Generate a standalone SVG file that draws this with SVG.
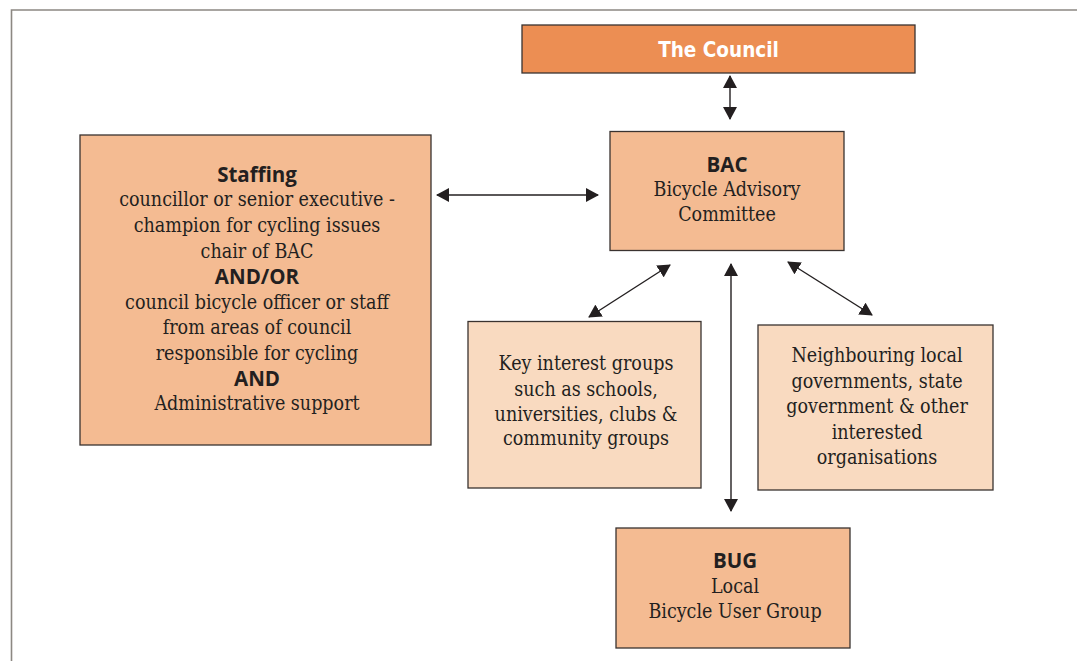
<svg xmlns="http://www.w3.org/2000/svg" width="1077" height="661" viewBox="0 0 1077 661">
<style>
.box{stroke:#3a3330;stroke-width:1.3}
.dark{fill:#f4bb92}
.light{fill:#f9dac0}
.council{fill:#ec8e53}
.s{font-family:"DejaVu Serif","Liberation Serif",serif;font-stretch:condensed;font-size:19.5px;fill:#231f20;text-anchor:middle}
.b{font-family:"Open Sans","Liberation Sans",sans-serif;font-weight:bold;font-size:20.5px;fill:#231f20;text-anchor:middle}
.w{font-family:"DejaVu Sans","Liberation Sans",sans-serif;font-stretch:condensed;font-weight:bold;font-size:20.5px;fill:#ffffff;text-anchor:middle}
.c{stroke:#231f20;stroke-width:1.4;fill:none;marker-start:url(#ah);marker-end:url(#ah)}
.frame{stroke:#8c8882;stroke-width:1.6;fill:none}
</style>
<defs>
<marker id="ah" viewBox="0 0 13 14" refX="12" refY="7" markerWidth="13" markerHeight="14" markerUnits="userSpaceOnUse" orient="auto-start-reverse">
<path d="M0,0 L13,7 L0,14 z" fill="#231f20"/>
</marker>
</defs>
<rect width="1077" height="661" fill="#ffffff"/>
<path class="frame" d="M11.5,661 L11.5,10 L1077,10"/>

<g id="connectors">
<line class="c" x1="730" y1="76" x2="730" y2="119"/>
<line class="c" x1="437" y1="195" x2="598" y2="195"/>
<line class="c" x1="670" y1="265" x2="589" y2="317"/>
<line class="c" x1="731" y1="264" x2="731" y2="511"/>
<line class="c" x1="788" y1="262" x2="872" y2="315"/>
</g>

<g id="council">
<rect class="box council" x="522" y="25" width="393" height="48"/>
<text class="w" x="718.5" y="56.5">The Council</text>
</g>

<g id="bac">
<rect class="box dark" x="610" y="131.5" width="234" height="119"/>
<text class="b" x="727" y="172">BAC</text>
<text class="s" x="727" y="196">Bicycle Advisory</text>
<text class="s" x="727" y="221">Committee</text>
</g>

<g id="staffing">
<rect class="box dark" x="80" y="135" width="351" height="310"/>
<text class="b" x="257" y="182">Staffing</text>
<text class="s" x="257" y="206">councillor or senior executive -</text>
<text class="s" x="257" y="232">champion for cycling issues</text>
<text class="s" x="257" y="258">chair of BAC</text>
<text class="b" x="257" y="284">AND/OR</text>
<text class="s" x="257" y="308.5">council bicycle officer or staff</text>
<text class="s" x="257" y="334">from areas of council</text>
<text class="s" x="257" y="359.5">responsible for cycling</text>
<text class="b" x="257" y="385.5">AND</text>
<text class="s" x="257" y="409.5">Administrative support</text>
</g>

<g id="keygroups">
<rect class="box light" x="468" y="321.5" width="233" height="166.5"/>
<text class="s" x="586" y="370">Key interest groups</text>
<text class="s" x="586" y="395.5">such as schools,</text>
<text class="s" x="586" y="420.5">universities, clubs &amp;</text>
<text class="s" x="586" y="445">community groups</text>
</g>

<g id="neighbouring">
<rect class="box light" x="758" y="325" width="235" height="165"/>
<text class="s" x="877" y="362">Neighbouring local</text>
<text class="s" x="877" y="387.5">governments, state</text>
<text class="s" x="877" y="413">government &amp; other</text>
<text class="s" x="877" y="438.5">interested</text>
<text class="s" x="877" y="463.5">organisations</text>
</g>

<g id="bug">
<rect class="box dark" x="616" y="528" width="234" height="120"/>
<text class="b" x="735" y="568">BUG</text>
<text class="s" x="735" y="593">Local</text>
<text class="s" x="735" y="618">Bicycle User Group</text>
</g>
</svg>
